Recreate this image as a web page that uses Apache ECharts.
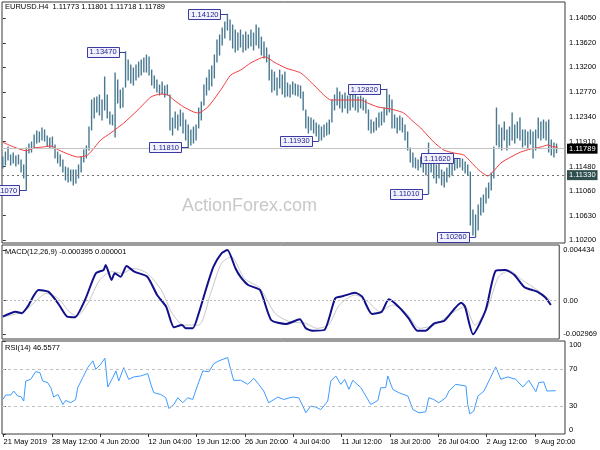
<!DOCTYPE html>
<html><head><meta charset="utf-8">
<script src="https://cdn.jsdelivr.net/npm/echarts@6/dist/echarts.min.js"></script>
<style>html,body{margin:0;padding:0;background:#fff}#c{width:600px;height:450px}</style>
</head><body><div id="c"></div>
<script>
// ---------- DATA ----------
const symbolName = 'EURUSD.H4';
const lastOHLC = ['1.11773', '1.11801', '1.11718', '1.11789'];
const highs = [
1.11644,1.11731,1.11818,1.11679,1.11714,1.11662,1.11679,1.11593,1.11506,1.11801,
1.11870,1.11904,1.12026,1.12096,1.12078,1.12148,1.12113,1.12009,1.11974,1.11991,
1.11853,1.11731,1.11679,1.11593,1.11471,1.11454,1.11419,1.11419,1.11419,1.11506,
1.11644,1.11766,1.11835,1.12165,1.12633,1.12668,1.12685,1.12720,1.12633,1.13032,
1.12720,1.12425,1.12373,1.13101,1.12980,1.12806,1.12841,1.13470,1.13327,1.13240,
1.13188,1.13240,1.13292,1.13327,1.13362,1.13413,1.13379,1.13153,1.13050,1.12980,
1.12893,1.12946,1.12876,1.12893,1.12720,1.12321,1.12425,1.12373,1.12460,1.12408,
1.12286,1.12200,1.12113,1.12165,1.12200,1.12494,1.12598,1.12893,1.13015,1.13153,
1.13222,1.13413,1.13674,1.13760,1.13882,1.13985,1.14120,1.14020,1.13934,1.13847,
1.13795,1.13847,1.13760,1.13812,1.13760,1.13847,1.13795,1.13934,1.13882,1.13725,
1.13639,1.13535,1.13413,1.13153,1.13118,1.13015,1.13153,1.13067,1.13118,1.12928,
1.12893,1.12946,1.12911,1.12893,1.12876,1.12772,1.12460,1.12338,1.12321,1.12286,
1.12234,1.12200,1.12165,1.12200,1.12234,1.12286,1.12633,1.12720,1.12841,1.12772,
1.12720,1.12754,1.12702,1.12737,1.12720,1.12754,1.12685,1.12702,1.12668,1.12633,
1.12460,1.12286,1.12252,1.12321,1.12408,1.12425,1.12494,1.12820,1.12720,1.12633,
1.12373,1.12321,1.12356,1.12321,1.12200,1.12078,1.11801,1.11714,1.11627,1.11593,
1.11644,1.11593,1.11558,1.11887,1.11627,1.11541,1.11506,1.11558,1.11419,1.11384,
1.11454,1.11558,1.11593,1.11600,1.11610,1.11620,1.11610,1.11558,1.11506,1.11384,
1.10726,1.10639,1.10813,1.10934,1.10986,1.11107,1.11194,1.11367,1.11818,1.12494,
1.12200,1.12148,1.12252,1.12113,1.12165,1.12408,1.12200,1.12252,1.12321,1.12113,
1.12113,1.12078,1.12113,1.12078,1.12113,1.12321,1.12252,1.12286,1.12252,1.12286,
1.11939,1.11887,1.11870];
const lows = [
1.11454,1.11506,1.11593,1.11506,1.11541,1.11489,1.11524,1.11384,1.11281,1.11070,
1.11714,1.11731,1.11801,1.11887,1.11904,1.11939,1.11922,1.11835,1.11801,1.11818,
1.11627,1.11541,1.11489,1.11384,1.11246,1.11211,1.11229,1.11159,1.11194,1.11281,
1.11384,1.11558,1.11627,1.11766,1.12113,1.12321,1.12425,1.12373,1.12286,1.12460,
1.12321,1.12217,1.12200,1.11991,1.12581,1.12494,1.12512,1.12858,1.12980,1.12928,
1.12893,1.12980,1.13032,1.13067,1.13118,1.13118,1.13067,1.12893,1.12841,1.12772,
1.12720,1.12737,1.12685,1.12720,1.12113,1.12026,1.12148,1.12113,1.12183,1.12061,
1.11939,1.11810,1.11853,1.11887,1.11939,1.12148,1.12286,1.12546,1.12720,1.12806,
1.12876,1.13015,1.13292,1.13413,1.13587,1.13708,1.13847,1.13674,1.13535,1.13465,
1.13500,1.13552,1.13465,1.13500,1.13535,1.13570,1.13500,1.13587,1.13535,1.13413,
1.13362,1.13292,1.12980,1.12772,1.12806,1.12720,1.12841,1.12737,1.12685,1.12702,
1.12685,1.12737,1.12720,1.12702,1.12668,1.12460,1.12148,1.12061,1.12113,1.12061,
1.12009,1.11930,1.11939,1.11991,1.12026,1.12044,1.12252,1.12460,1.12546,1.12494,
1.12425,1.12494,1.12408,1.12460,1.12512,1.12460,1.12425,1.12494,1.12460,1.12408,
1.12113,1.12061,1.12078,1.12113,1.12165,1.12200,1.12252,1.12373,1.12425,1.12148,
1.12148,1.12061,1.12113,1.12078,1.11939,1.11766,1.11558,1.11471,1.11454,1.11419,
1.11471,1.11384,1.11333,1.11010,1.11384,1.11281,1.11194,1.11281,1.11159,1.11125,
1.11211,1.11298,1.11333,1.11419,1.11454,1.11471,1.11419,1.11367,1.11333,1.10466,
1.10292,1.10260,1.10379,1.10639,1.10691,1.10847,1.10934,1.11073,1.11281,1.11853,
1.11818,1.11766,1.11939,1.11766,1.11853,1.11939,1.11887,1.11974,1.11939,1.11818,
1.11853,1.11801,1.11870,1.11627,1.11766,1.11974,1.11939,1.11974,1.11939,1.11731,
1.11679,1.11644,1.11718];
const currentPrice = 1.11789;
const levelPrice = 1.11330;

const maBars = [0,4.2,8.8,11.9,15.3,18.4,21.4,24.9,28.7,32.5,37.5,41.3,46.3,51.7,56.7,60.5,63.2,65.5,69.3,73.1,75,78.5,81.5,84.2,87.3,91.1,94.9,98.8,100.7,103.8,108.3,114.1,119.1,122.9,125.6,132.1,137.1,139.7,143.6,148.5,153.5,157.3,160,165,168.8,172.7,176.5,179.2,182.2,185.7,187.6,190.7,194.5,198.3,202.1,206,208.7,211,212.5];
const maVals = [1.11900,1.11818,1.11754,1.11801,1.11818,1.11835,1.11766,1.11697,1.11644,1.11679,1.11939,1.12061,1.12234,1.12460,1.12685,1.12737,1.12720,1.12633,1.12512,1.12425,1.12408,1.12512,1.12685,1.12858,1.13067,1.13153,1.13275,1.13362,1.13379,1.13292,1.13188,1.13101,1.12893,1.12720,1.12633,1.12633,1.12633,1.12581,1.12512,1.12477,1.12408,1.12252,1.12148,1.11904,1.11766,1.11714,1.11679,1.11558,1.11419,1.11315,1.11384,1.11541,1.11644,1.11731,1.11783,1.11818,1.11853,1.11818,1.11818];

const annBars = [9, 47, 71, 86, 121, 147, 163, 175, 181];
const annPrices = [1.1107, 1.1347, 1.1181, 1.1412, 1.1193, 1.1282, 1.1101, 1.1162, 1.1026];

const macdBars = [0,5,7.3,9.6,13.8,17.6,21.4,24.9,27.9,31.8,36,39,39.8,42.1,43.3,45.6,47.9,50.9,55.9,59.7,63.2,66.2,69.3,70.8,73.5,75.8,78.9,81.5,84.6,86.9,90,91.9,94.9,99.5,103.8,109.5,114.9,117.2,119.8,124.4,128.6,131.7,136.3,139,142.8,146.6,149.3,153.1,157,160.4,163.5,166.9,170.8,177.3,178.8,181.9,186.8,190.7,194.5,197.9,201.8,204.8,206.7,209.8,212];
const macdVals = [-0.001424,-0.000985,-0.001125,-0.000545,0.000921,0.000772,-0.000247,-0.001424,-0.001476,0.000043,0.002388,0.002678,0.003117,0.001799,0.002388,0.002089,0.003029,0.002528,0.002089,0.000482,-0.000545,-0.002354,-0.002153,-0.002442,-0.002442,-0.001125,0.001211,0.002967,0.004144,0.004434,0.002827,0.002089,0.001360,0.000921,-0.001713,-0.002065,-0.001652,-0.002442,-0.002653,-0.002592,0.000192,0.000394,0.000684,0.000333,-0.001186,-0.000985,0.000104,-0.000545,-0.001564,-0.002653,-0.002653,-0.002003,-0.001775,-0.000194,-0.000545,-0.002969,-0.000835,0.002616,0.002678,0.002239,0.001158,0.000921,0.000772,0.000280,-0.000395];
const sigBars = [0,8,12.6,16.8,21.4,25.7,28.7,32.9,37.5,42.1,46.3,50.2,55.9,61.3,65.5,70,75.8,80.4,84.6,88.4,93.4,99.5,105.3,111,117.2,121.4,126,130.2,136.3,141.3,145.9,150.8,156.2,161.2,166.9,174.6,178.8,182.6,187.6,191.8,196,200.9,206.7,212];
const sigVals = [-0.001424,-0.000985,-0.000106,0.000631,0.000192,-0.000985,-0.001362,-0.000247,0.001799,0.002528,0.002388,0.002827,0.002388,0.000921,-0.001125,-0.002153,-0.002153,0.000631,0.003266,0.003846,0.001949,0.001070,-0.001125,-0.001863,-0.002003,-0.002442,-0.002153,-0.000396,0.000482,-0.000106,-0.000985,-0.000396,-0.001125,-0.002442,-0.002153,-0.000985,-0.000545,-0.002153,-0.000545,0.002089,0.002616,0.001799,0.000921,0.000001];
const macdLast = '-0.000395', sigLast = '0.000001';

const rsiBars = [0,1.1,3.1,4.2,5.7,6.9,8,8.8,10.7,12.6,14.2,15.3,17.2,18.4,19.5,21.1,23,24.1,26,27.9,28.7,30.6,32.5,34.5,35.6,37.5,39.1,40.2,42.1,43.3,44.4,46.3,48.2,50.2,52.8,55.5,56.7,57.8,60.5,62.4,63.6,65.5,67,68.9,70.8,72.7,74.7,76.6,78.9,80.8,82.7,86.1,87.3,88.4,91.1,93.8,96.1,98,99.9,101.8,105.3,107.6,109.9,111,113.3,114.9,116,117.9,119.8,121.7,122.9,124.4,125.6,127.5,129.4,130.9,132.5,134,137.1,139,140.9,143.6,144.7,146.6,147.4,149.3,151.6,155.1,157,159.3,161.9,163.1,165,166.9,169.6,170.8,173.4,177.3,178,178.8,180.3,181.9,184.2,186.1,188.7,190.7,193.3,196.4,199.1,201.4,204.1,205.2,207.1,208.3,209,211.7];
const rsiVals = [37.1,41.9,42,46.2,40.8,40.4,35.4,57,58.8,67.1,66,57,55.2,49.8,39.7,42.5,31.7,36.1,33.6,37.1,49.8,60.6,71.4,78.6,69.6,75,81.5,50.5,60.6,67.8,57,71.4,58.8,61.4,62.4,64.9,53.4,44.4,42.5,39,27.4,31.7,39,33.6,39,37.1,53.4,67.8,67,75.7,78.6,82.2,68.5,57.7,57.7,53.4,59.8,53.4,46.2,33.6,39.7,37.1,39,39.7,39,30,22.8,30,29,26.3,30,35.4,57,62.4,53.4,58.8,48,57.7,49.8,40.8,31.7,36.1,49.8,49.8,62.4,48,44.4,40.8,26.3,22.8,23.8,39,37.1,33.6,39,46.2,53.4,51.6,31.7,21.7,24.6,40.8,46.2,57,72.2,58.8,61.4,58.8,50.5,57.7,45.5,55.2,56,46.2,44.4,46.56];
const rsiLast = '46.5577';

const priceTicks = [1.1020,1.1063,1.1106,1.1148,1.1191,1.1234,1.1277,1.1320,1.1362,1.1405];
const macdTicks = [-0.002969, 0, 0.004434];
const rsiTicks = [0, 30, 70, 100];
const timeLabelBars = [0.3,18.8,37.3,55.7,74.2,92.7,111.2,129.7,148.2,166.7,185.2,203.7];
const timeLabels = ['21 May 2019','28 May 12:00','4 Jun 20:00','12 Jun 04:00','19 Jun 12:00','26 Jun 20:00','4 Jul 04:00','11 Jul 12:00','18 Jul 20:00','26 Jul 04:00','2 Aug 12:00','9 Aug 20:00'];
const watermark = 'ActionForex.com';

// ---------- CHART ----------
const FONT = '"Liberation Sans", Arial, sans-serif';
const FS = 7.5;
const BAR = '#487991';
const chart = echarts.init(document.getElementById('c'), null, {renderer: 'canvas'});

const X_MIN = -0.3, X_MAX = 215.24;
function xAx(k, show) {
  const ax = {type: 'value', gridIndex: k, min: X_MIN, max: X_MAX, splitLine: {show: false},
    axisLine: {show: false}, axisTick: {show: false}, axisLabel: {show: false}};
  if (show) {
    ax.axisTick = {show: true, customValues: timeLabelBars, length: 3, lineStyle: {color: '#333'}};
    ax.axisLabel = {show: true, customValues: timeLabelBars, align: 'left', margin: 4,
      fontSize: FS, fontFamily: FONT, color: '#000',
      formatter: v => {
        let best = 0;
        timeLabelBars.forEach((b, i) => { if (Math.abs(b - v) < Math.abs(timeLabelBars[best] - v)) best = i; });
        return timeLabels[best];
      }};
  }
  return ax;
}
function yAx(k, min, max, ticks, fmt, extra) {
  return Object.assign({type: 'value', gridIndex: k, position: 'right', min, max, scale: true,
    splitLine: {show: false}, axisLine: {show: false},
    axisTick: {show: true, customValues: ticks, length: 3, lineStyle: {color: '#333'}},
    axisLabel: Object.assign({show: true, customValues: ticks, margin: 4, fontSize: FS, fontFamily: FONT, color: '#000', formatter: fmt}, extra || {})
  });
}

const gridStyle = {show: true, borderColor: '#3a3a3a', borderWidth: 1, backgroundColor: 'transparent'};

const option = {
  animation: false,
  backgroundColor: '#fff',
  grid: [
    Object.assign({left: 2, right: 35, top: 2, height: 241}, gridStyle),
    Object.assign({left: 2, right: 35, top: 245, height: 94}, gridStyle),
    Object.assign({left: 2, right: 35, top: 341, height: 93}, gridStyle)
  ],
  xAxis: [xAx(0, false), xAx(1, false), xAx(2, true)],
  yAxis: [
    yAx(0, 1.10153, 1.14333, priceTicks, v => v.toFixed(5)),
    yAx(1, -0.003382, 0.004873, macdTicks, v => (Math.abs(v) < 1e-9 ? '0.00' : v.toFixed(6))),
    yAx(2, 0, 100, rsiTicks, v => String(Math.round(v)), {verticalAlignMaxLabel: 'top', verticalAlignMinLabel: 'bottom'})
  ],
  graphic: [
    {type: 'text', left: 5, top: 3, z: 100, style: {text: symbolName + '  ' + lastOHLC.join(' '), fontSize: FS, fontFamily: FONT, fill: '#000'}},
    {type: 'text', left: 5, top: 248, z: 100, style: {text: 'MACD(12,26,9) ' + macdLast + ' ' + sigLast, fontSize: FS, fontFamily: FONT, fill: '#000'}},
    {type: 'text', left: 5, top: 344, z: 100, style: {text: 'RSI(14) ' + rsiLast, fontSize: FS, fontFamily: FONT, fill: '#000'}},
    {type: 'text', left: 182, top: 197, z: 0, style: {text: watermark, fontSize: 18, fontFamily: FONT, fill: '#c8c8c8'}}
  ],
  series: [
    {
      type: 'line', xAxisIndex: 0, yAxisIndex: 0, z: 1, silent: true, symbol: 'none',
      data: [],
      markLine: {symbol: 'none', silent: true, animation: false, precision: 5,
        data: [
          {yAxis: currentPrice, lineStyle: {color: '#c4c4c4', type: 'solid', width: 1},
           label: {show: true, position: 'end', distance: 2, formatter: currentPrice.toFixed(5), backgroundColor: '#000', color: '#fff', padding: [1, 2, 1, 2], fontSize: FS, fontFamily: FONT}},
          {yAxis: levelPrice, lineStyle: {color: '#707070', type: [2, 3], width: 1},
           label: {show: true, position: 'end', distance: 2, formatter: levelPrice.toFixed(5), backgroundColor: '#2f4f4f', color: '#fff', padding: [1, 2, 1, 2], fontSize: FS, fontFamily: FONT}}
        ]}
    },
    {
      type: 'custom', xAxisIndex: 0, yAxisIndex: 0, z: 2, silent: true,
      encode: {x: 0, y: [1, 2]},
      data: highs.map((h, i) => [i, h, lows[i]]),
      renderItem: (params, api) => {
        const x = api.value(0);
        const p1 = api.coord([x, api.value(1)]);
        const p2 = api.coord([x, api.value(2)]);
        return {type: 'line', shape: {x1: p1[0], y1: p1[1] - 0.5, x2: p2[0], y2: p2[1] + 0.5}, style: {stroke: BAR, lineWidth: 1.4}};
      }
    },
    {
      type: 'line', xAxisIndex: 0, yAxisIndex: 0, z: 3, silent: true, symbol: 'none', smooth: 0.2,
      data: maBars.map((b, i) => [b, maVals[i]]),
      lineStyle: {color: '#f23b3b', width: 1}
    },
    {
      type: 'custom', xAxisIndex: 0, yAxisIndex: 0, z: 10, silent: true,
      encode: {x: 0, y: 1},
      data: annBars.map((b, i) => [b, annPrices[i]]),
      renderItem: (params, api) => {
        const p = api.coord([api.value(0), api.value(1)]);
        const gap = 7, w = 32, h = 10;
        const right = p[0] - gap;
        return {type: 'group', children: [
          {type: 'line', shape: {x1: right, y1: Math.round(p[1]) + 0.5, x2: p[0], y2: Math.round(p[1]) + 0.5}, style: {stroke: '#3a3aa0', lineWidth: 1}},
          {type: 'rect', shape: {x: Math.round(right - w) + 0.5, y: Math.round(p[1] - h / 2) + 0.5, width: w, height: h}, style: {fill: '#f2f2ff', stroke: '#3a3aa0', lineWidth: 1}},
          {type: 'text', x: right - w / 2 + 0.5, y: p[1] + 0.5, style: {text: api.value(1).toFixed(5), align: 'center', verticalAlign: 'middle', fontSize: FS, fontFamily: FONT, fill: '#1c1c8a'}}
        ]};
      }
    },
    {
      type: 'line', xAxisIndex: 1, yAxisIndex: 1, z: 2, silent: true, symbol: 'none', smooth: 0.25,
      data: sigBars.map((b, i) => [b, sigVals[i]]),
      lineStyle: {color: '#c8c8c8', width: 1},
      markLine: {symbol: 'none', silent: true, animation: false, label: {show: false},
        data: [{yAxis: 0}], lineStyle: {color: '#b8b8b8', type: [2, 2], width: 1}}
    },
    {
      type: 'line', xAxisIndex: 1, yAxisIndex: 1, z: 3, silent: true, symbol: 'none', smooth: 0.2,
      data: macdBars.map((b, i) => [b, macdVals[i]]),
      lineStyle: {color: '#10108a', width: 2}
    },
    {
      type: 'line', xAxisIndex: 2, yAxisIndex: 2, z: 3, silent: true, symbol: 'none',
      data: rsiBars.map((b, i) => [b, rsiVals[i]]),
      lineStyle: {color: '#3d9bff', width: 1},
      markLine: {symbol: 'none', silent: true, animation: false, label: {show: false},
        data: [{yAxis: 30}, {yAxis: 70}], lineStyle: {color: '#c0c0c0', type: [3, 3], width: 1}}
    }
  ]
};
chart.setOption(option);
</script>
</body></html>
